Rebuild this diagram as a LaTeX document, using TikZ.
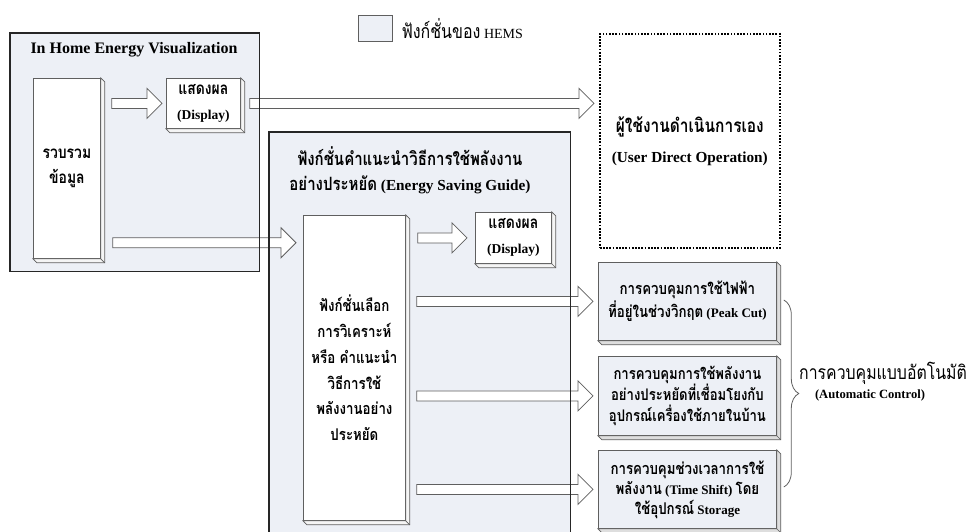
\documentclass[tikz,border=0pt]{standalone}
\usepackage{fontspec}
\setmainfont{Liberation Serif}
\newfontfamily\thaifont[Script=Thai, FakeStretch=0.82]{Loma}
\usetikzlibrary{calc,decorations.pathreplacing}
\definecolor{hemsfill}{RGB}{237,240,246}
\definecolor{edgegray}{RGB}{95,95,95}
\newcommand\tht[1]{{\thaifont #1}}
\newcommand\lat[2]{{\fontsize{#1}{0}\selectfont #2}}
\newcommand\bevel[2]{%
  \filldraw[#2] (#1.north east) -- ++(4,4) -- ($(#1.south east)+(4,4)$) -- ($(#1.south west)+(4,4)$) -- (#1.south west) -- (#1.south east) -- cycle;
  \draw[#2,fill=none] (#1.south east) -- ++(4,4);}
\newcommand\barrow[2]{%
  \path[blockarrow] let \p1=(#1), \p2=(#2) in
    (\x1,\y1+5pt) -- (\x2-15pt,\y1+5pt) -- (\x2-15pt,\y1+15pt) -- (\x2,\y1)
    -- (\x2-15pt,\y1-15pt) -- (\x2-15pt,\y1-5pt) -- (\x1,\y1-5pt) -- cycle;}
\tikzset{
  hemsframe/.style={draw=black!85, line width=1.6pt},
  framefill/.style={fill=hemsfill, anchor=north west, inner sep=0pt},
  solidbox/.style={draw=edgegray, line width=0.8pt, anchor=north west, inner sep=0pt,
    align=center, font=\bfseries\fontsize{16.2}{25}\selectfont},
  whitebox/.style={solidbox, fill=white},
  tintbox/.style={solidbox, fill=hemsfill},
  bevelwhite/.style={draw=edgegray, line width=0.7pt, fill=black!4},
  beveltint/.style={draw=edgegray, line width=0.7pt, fill=black!13},
  blockarrow/.style={draw=edgegray, line width=0.8pt, fill=white, line join=miter},
  titletext/.style={font=\bfseries\fontsize{16}{25}\selectfont, align=center},
  bracestyle/.style={draw=edgegray, line width=0.8pt, decorate,
    decoration={brace, amplitude=15pt, aspect=0.5}},
}
\begin{document}
\begin{tikzpicture}[x=1pt,y=-1pt]
\useasboundingbox (0,0) rectangle (970,531);
\clip (0,0) rectangle (970,531);
% frame fills
\node[framefill, minimum width=249pt, minimum height=238pt] (vis) at (10,33) {};
\node[framefill, minimum width=301pt, minimum height=420pt] (guide) at (269,132) {};
% legend
\node[draw=edgegray, fill=hemsfill, line width=0.8pt, minimum width=34pt, minimum height=26pt, inner sep=0pt] (legbox) at (375,28) {};
\node[anchor=west, font=\fontsize{19.5}{21}\selectfont, inner sep=0pt] (legtext) at ($(legbox.east)+(9,1)$) {\tht{ฟังก์ชั่นของ}\lat{14}{ HEMS}};
% inner boxes
\node[whitebox, minimum width=67pt, minimum height=180pt, font=\bfseries\fontsize{17}{25}\selectfont] (collect) at (33,78) {\tht{รวบรวม}\\\tht{ข้อมูล}};
\bevel{collect}{bevelwhite}
\node[whitebox, minimum width=74pt, minimum height=50pt, font=\bfseries\fontsize{17}{25}\selectfont] (disp1) at (166,78) {\tht{แสดงผล}\\\lat{13.5}{(Display)}};
\bevel{disp1}{bevelwhite}
\node[whitebox, minimum width=102pt, minimum height=305pt, font=\bfseries\fontsize{16.2}{25.8}\selectfont] (choice) at (303,215)
  {\tht{ฟังก์ชั่นเลือก}\\\tht{การวิเคราะห์}\\\tht{หรือ คำแนะนำ}\\\tht{วิธีการใช้}\\\tht{พลังงานอย่าง}\\\tht{ประหยัด}};
\bevel{choice}{bevelwhite}
\node[whitebox, minimum width=76pt, minimum height=51pt, font=\bfseries\fontsize{17}{25}\selectfont] (disp2) at (475,212) {\tht{แสดงผล}\\\lat{13.5}{(Display)}};
\bevel{disp2}{bevelwhite}
\node[draw=black, line width=1.6pt, dash pattern=on 1.7pt off 1.5pt, anchor=north west,
  minimum width=180pt, minimum height=214pt, inner sep=0pt, align=center,
  font=\bfseries\fontsize{18.9}{30}\selectfont] (user) at (599,33)
  {\tht{ผู้ใช้งานดำเนินการเอง}\\\lat{15.3}{(User Direct Operation)}};
\node[tintbox, minimum width=178pt, minimum height=78pt, font=\bfseries\fontsize{16.2}{23}\selectfont] (ctlA) at (598,262)
  {\tht{การควบคุมการใช้ไฟฟ้า}\\\tht{ที่อยู่ในช่วงวิกฤต}\lat{13}{ (Peak Cut)}};
\bevel{ctlA}{beveltint}
\node[tintbox, minimum width=178pt, minimum height=79pt, font=\bfseries\fontsize{16}{21}\selectfont] (ctlB) at (598,356)
  {\tht{การควบคุมการใช้พลังงาน}\\\tht{อย่างประหยัดที่เชื่อมโยงกับ}\\\tht{อุปกรณ์เครื่องใช้ภายในบ้าน}};
\bevel{ctlB}{beveltint}
\node[tintbox, minimum width=178pt, minimum height=78pt, font=\bfseries\fontsize{16.2}{20}\selectfont] (ctlC) at (598,450)
  {\tht{การควบคุมช่วงเวลาการใช้}\\\tht{พลังงาน}\lat{13}{ (Time Shift) }\tht{โดย}\\\tht{ใช้อุปกรณ์}\lat{13}{ Storage}};
\bevel{ctlC}{beveltint}
% titles
\node[titletext] (vistitle) at (134,50) {In Home Energy Visualization};
\node[titletext, font=\bfseries\fontsize{18.3}{25}\selectfont] (guidetitle) at (410,170.5)
  {\tht{ฟังก์ชั่นคำแนะนำวิธีการใช้พลังงาน}\\\tht{อย่างประหยัด}\lat{15.3}{ (Energy Saving Guide)}};
% arrow end points
\coordinate (a1s) at ($(collect.east |- disp1.west)+(11,0)$);
\coordinate (a1e) at ($(disp1.west)+(-4,0)$);
\coordinate (a2s) at ($(disp1.east)+(9,0)$);
\coordinate (a2e) at ($(user.west |- disp1.west)+(-5,0)$);
\coordinate (a3s) at ($(collect.south east)+(12,-16)$);
\coordinate (a3e) at ($(choice.north west)+(-7,27)$);
\coordinate (a4s) at ($(choice.east |- disp2.west)+(12,0)$);
\coordinate (a4e) at ($(disp2.west)+(-8,0)$);
\coordinate (aAs) at ($(choice.east |- ctlA.west)+(11,0)$);
\coordinate (aAe) at ($(ctlA.west)+(-5,0)$);
\coordinate (aBs) at ($(choice.east |- ctlB.west)+(11,0)$);
\coordinate (aBe) at ($(ctlB.west)+(-5,0)$);
\coordinate (aCs) at ($(choice.east |- ctlC.west)+(11,0)$);
\coordinate (aCe) at ($(ctlC.west)+(-5,0)$);
\barrow{a1s}{a1e}
\barrow{a2s}{a2e}
\barrow{a3s}{a3e}
\barrow{a4s}{a4e}
\barrow{aAs}{aAe}
\barrow{aBs}{aBe}
\barrow{aCs}{aCe}
% frame borders on top
\draw[hemsframe] (vis.north west) rectangle (vis.south east);
\draw[hemsframe] (guide.south west) -- (guide.north west) -- (guide.north east) -- (guide.south east);
% brace and automatic control
\draw[bracestyle] ($(ctlA.north east)+(7,38)$) -- ($(ctlC.north east)+(7,37)$);
\node[font=\fontsize{19.3}{21}\selectfont] (autoth) at (883,373) {\tht{การควบคุมแบบอัตโนมัติ}};
\node[font=\bfseries\fontsize{12.6}{15}\selectfont] (autoen) at (870,395) {(Automatic Control)};
\end{tikzpicture}
\end{document}
